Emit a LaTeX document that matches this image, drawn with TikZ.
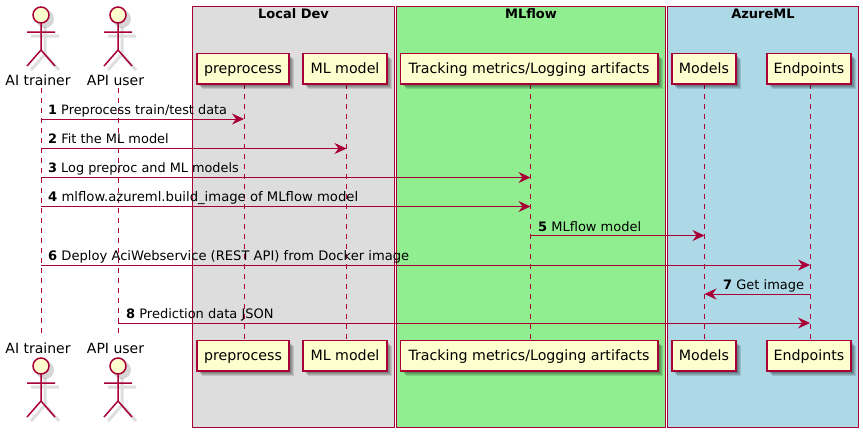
\documentclass[tikz,border=0pt]{standalone}
\usepackage{fontspec}
\setmainfont{DejaVu Sans}
\usetikzlibrary{arrows.meta}
\definecolor{pu}{HTML}{A80036}
\definecolor{pubg}{HTML}{FEFECE}
\definecolor{boxgray}{HTML}{DDDDDD}
\definecolor{boxgreen}{HTML}{90EE90}
\definecolor{boxblue}{HTML}{ADD8E6}
\newcommand{\msz}[1]{\fontsize{#1}{15}\selectfont}
\tikzset{
  groupbox/.style={draw=pu,line width=1pt},
  grouptitle/.style={font=\fontsize{13}{15}\selectfont\bfseries,text=black,anchor=center,inner sep=0pt},
  part/.style={fill=pubg,minimum height=30pt,inner sep=0pt,anchor=center,
    text height=10pt,text depth=1pt,font=\fontsize{14.2}{16}\selectfont,text=black},
  partborder/.style={draw=pu,line width=1.6pt,line join=miter},
  actlabel/.style={font=\fontsize{14}{16}\selectfont,text=black,inner sep=0pt,anchor=center},
  life/.style={draw=pu,line width=1pt,dash pattern=on 5pt off 5pt},
  msg/.style={draw=pu,line width=1pt,-{Stealth[length=12pt,width=11pt,inset=4pt,fill=pu]}},
  msgtext/.style={text=black,anchor=base west,inner sep=0pt},
  actline/.style={draw=pu,line width=1.5pt},
  actshadow/.style={draw=black,opacity=.13,line width=3pt},
  pics/actor/.style={code={
    \fill[black,opacity=.16] (4,4) circle[radius=9];
    \draw[actshadow] (4,12) -- (4,39) (-10,21) -- (18,21) (-10,55) -- (4,39) -- (18,55);
    \draw[actline,fill=pubg] (0,0) circle[radius=8];
    \draw[actline] (0,8) -- (0,35) (-14,17) -- (14,17) (-14,51) -- (0,35) -- (14,51);
  }}
}
\begin{document}
\begin{tikzpicture}[x=1pt,y=-1pt]
\useasboundingbox (0,0) rectangle (863,432);
\path[fill=white] (0,0) rectangle (863,432);
% group boxes
\draw[groupbox,fill=boxgray] (192.5,6.5) rectangle (394.5,427.5);
\draw[groupbox,fill=boxgreen] (396.5,6.5) rectangle (665.5,427.5);
\draw[groupbox,fill=boxblue] (667.5,6.5) rectangle (858.5,427.5);
\node[grouptitle] (tlocal) at (293.5,13.5) {Local Dev};
\node[grouptitle] (tml) at (531,13.5) {MLflow};
\node[grouptitle] (taz) at (763,13.5) {AzureML};
% actor labels
\node[actlabel] (trainer) at (38,80) {AI trainer};
\node[actlabel] (user) at (115.5,80) {API user};
\node[actlabel] (trainerb) at (38,348) {AI trainer};
\node[actlabel] (userb) at (115.5,348) {API user};
% lifelines
\coordinate (L1) at (41,88);  \coordinate (L1b) at (41,335);
\coordinate (L2) at (118,88); \coordinate (L2b) at (118,335);
\draw[life] (L1) -- (L1b);
\draw[life] (L2) -- (L2b);
\path (244,84) coordinate (c3) (346.5,84) coordinate (c4) (530.5,84) coordinate (c5) (704.5,84) coordinate (c6) (810,84) coordinate (c7);
\coordinate (pbot) at (0,340);
\path (c3 |- pbot) coordinate (c3b) (c4 |- pbot) coordinate (c4b) (c5 |- pbot) coordinate (c5b) (c6 |- pbot) coordinate (c6b) (c7 |- pbot) coordinate (c7b);
\draw[life] (c3) -- (c3b);
\draw[life] (c4) -- (c4b);
\draw[life] (c5) -- (c5b);
\draw[life] (c6) -- (c6b);
\draw[life] (c7) -- (c7b);
% soft shadows of the participant boxes
\foreach \w/\cx in {92/243,84/345,257/529,64/704,84/809}{
  \foreach \s in {2,3,4,5}{
    \fill[black,opacity=.12] (\cx-\w/2+\s,53.5+\s) rectangle (\cx+\w/2+\s,83.5+\s);
    \fill[black,opacity=.12] (\cx-\w/2+\s,340.5+\s) rectangle (\cx+\w/2+\s,370.5+\s);
  }
}
\foreach \n/\w/\t/\cx in {pre/92/preprocess/243,mlm/84/ML model/345,trk/257/Tracking metrics\slash Logging artifacts/529,mod/64/Models/704,endp/84/Endpoints/809}{
  \node[part,minimum width=\w pt] (\n) at (\cx,68.5) {\t};
  \node[part,minimum width=\w pt] (\n b) at (\cx,355.5) {\t};
  \draw[partborder] (\n.south west) rectangle (\n.north east);
  \draw[partborder] (\n b.south west) rectangle (\n b.north east);
}
% actors
\pic at (41,15) {actor};
\pic at (118,15) {actor};
\pic at (41,366) {actor};
\pic at (118,366) {actor};
% messages
\coordinate (y1) at (0,119);
\coordinate (y2) at (0,148.5);
\coordinate (y3) at (0,177.5);
\coordinate (y4) at (0,206.5);
\coordinate (y5) at (0,235.5);
\coordinate (y6) at (0,265);
\coordinate (y7) at (0,294);
\coordinate (y8) at (0,323);
\draw[msg] (L1 |- y1) -- (c3 |- y1);
\draw[msg] (L1 |- y2) -- (c4 |- y2);
\draw[msg] (L1 |- y3) -- (c5 |- y3);
\draw[msg] (L1 |- y4) -- (c5 |- y4);
\draw[msg] (c5 |- y5) -- (c6 |- y5);
\draw[msg] (L1 |- y6) -- (c7 |- y6);
\draw[msg] (c7 |- y7) -- (c6 |- y7);
\draw[msg] (L2 |- y8) -- (c7 |- y8);
\node[msgtext,font=\msz{12.85}] (t1) at (48,114) {\textbf{1} Preprocess train/test data};
\node[msgtext,font=\msz{12.95}] (t2) at (48,143) {\textbf{2} Fit the ML model};
\node[msgtext,font=\msz{12.85}] (t3) at (48,172) {\textbf{3} Log preproc and ML models};
\node[msgtext,font=\msz{13.2}] (t4) at (48,201.5) {\textbf{4} mlflow.azureml.build\_image of MLflow model};
\node[msgtext,font=\msz{13}] (t5) at (538,231) {\textbf{5} MLflow model};
\node[msgtext,font=\msz{13.1}] (t6) at (48,260) {\textbf{6} Deploy AciWebservice (REST API) from Docker image};
\node[msgtext,font=\msz{13}] (t7) at (723,289) {\textbf{7} Get image};
\node[msgtext,font=\msz{13}] (t8) at (126,318) {\textbf{8} Prediction data JSON};
\end{tikzpicture}
\end{document}
